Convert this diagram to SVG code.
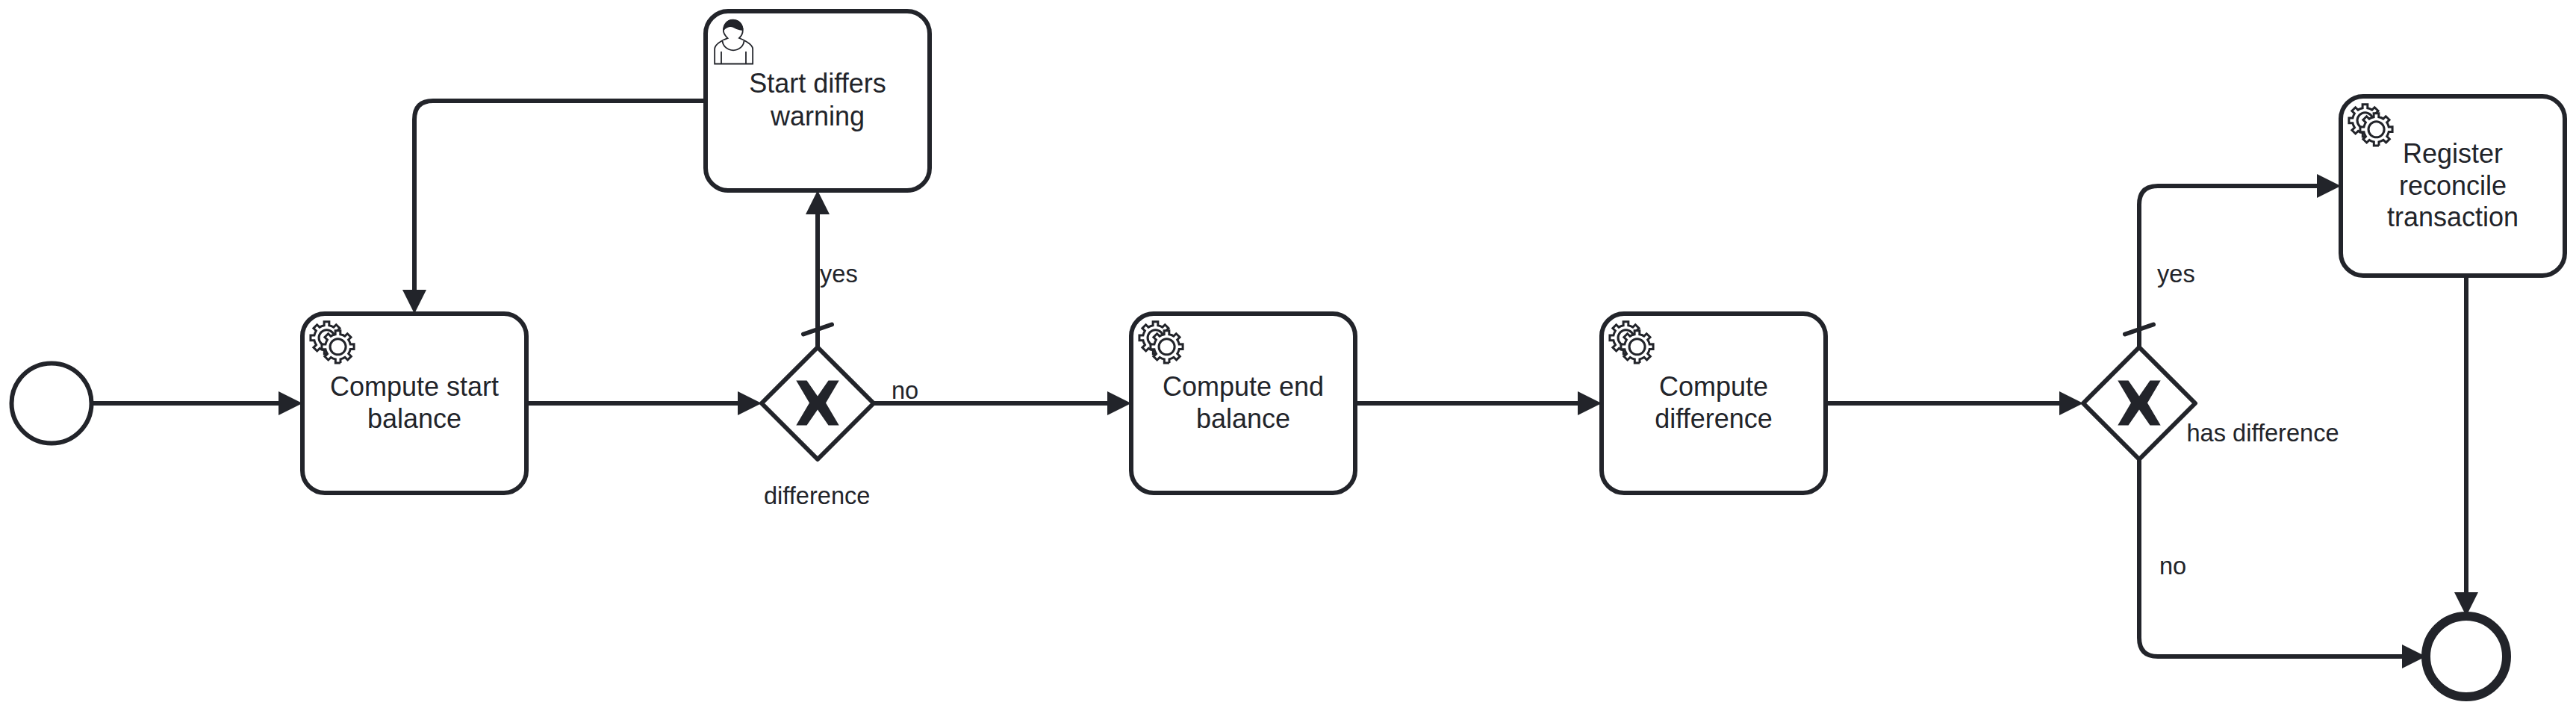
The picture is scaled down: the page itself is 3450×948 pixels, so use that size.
<svg xmlns="http://www.w3.org/2000/svg" xmlns:xlink="http://www.w3.org/1999/xlink" width="3450" height="948" viewBox="0 0 3450 948">
<style>
.task{fill:#fff;stroke:#22242a;stroke-width:6}
.evt{fill:#fff;stroke:#22242a}
.gw{fill:#fff;stroke:#22242a;stroke-width:6;stroke-linejoin:round}
.flow{fill:none;stroke:#22242a;stroke-width:6;stroke-linejoin:round}
.tick{fill:none;stroke:#22242a;stroke-width:6;stroke-linecap:round}
.x{fill:#22242a}
text{font-family:"Liberation Sans",Arial,sans-serif;fill:#22242a}
.tl{font-size:36px;text-anchor:middle}
.fl{font-size:32.6px}
.ico{fill:#fff;stroke:#22242a;stroke-width:1}
.icoU{fill:#fff;stroke:#22242a;stroke-width:.6}
</style>
<defs>
<marker id="arrow" markerUnits="userSpaceOnUse" markerWidth="34" markerHeight="34" viewBox="0 0 34 34" refX="12" refY="17" orient="auto"><path d="M0,1 L32,17 L0,33 Z" fill="#22242a"/></marker>
<path id="gear" d="m 0,0 v -1.71335 c 0.352326,-0.0705 0.703932,-0.17838 1.047628,-0.32133 0.344416,-0.14465 0.665822,-0.32133 0.966377,-0.52145 l 1.19431,1.18005 1.567487,-1.57688 -1.195028,-1.18014 c 0.403376,-0.61394 0.683079,-1.29908 0.825447,-2.01824 l 1.622133,-0.01 v -2.2196 l -1.636514,0.01 c -0.07333,-0.35153 -0.178319,-0.70024 -0.323564,-1.04372 -0.145244,-0.34406 -0.321407,-0.6644 -0.522735,-0.96217 l 1.131035,-1.13631 -1.583305,-1.56293 -1.129598,1.13589 c -0.614052,-0.40108 -1.302883,-0.68093 -2.022633,-0.82247 l 0.0093,-1.61852 h -2.241173 l 0.0042,1.63124 c -0.353763,0.0736 -0.705369,0.17977 -1.049785,0.32371 -0.344415,0.14437 -0.665102,0.32092 -0.9635006,0.52046 l -1.1698628,-1.15823 -1.5667691,1.5792 1.1684265,1.15669 c -0.4026573,0.61283 -0.68308,1.29797 -0.8247287,2.01713 l -1.6588041,0.003 v 2.22174 l 1.6724648,-0.006 c 0.073327,0.35077 0.1797598,0.70243 0.3242851,1.04472 0.1452428,0.34448 0.3214064,0.6644 0.5227339,0.96066 l -1.1993431,1.19723 1.5840256,1.56011 1.1964668,-1.19348 c 0.6140517,0.40346 1.3028827,0.68232 2.0233517,0.82331 l 7.19e-4,1.69892 h 2.226848 z m 0.221462,-3.9957 c -1.788948,0.7502 -3.8576,-0.0928 -4.6097055,-1.87438 -0.7521065,-1.78321 0.090598,-3.84627 1.8802645,-4.59604 1.78823,-0.74936 3.856881,0.0929 4.608987,1.87437 0.752106,1.78165 -0.0906,3.84612 -1.879546,4.59605 z"/>
<g id="service">
<g transform="scale(3)">
<use xlink:href="#gear" href="#gear" x="12" y="18" class="ico"/>
<path d="m 17.2,18 c -1.788948,0.7502 -3.8576,-0.0928 -4.6097055,-1.87438 -0.7521065,-1.78321 0.090598,-3.84627 1.8802645,-4.59604 1.78823,-0.74936 3.856881,0.0929 4.608987,1.87437 0.752106,1.78165 -0.0906,3.84612 -1.879546,4.59605 z" fill="#fff"/>
<use xlink:href="#gear" href="#gear" x="17" y="22" class="ico"/>
</g>
</g>
<path id="xmark" d="M-28.7,-30 L-14.5,-30 L0,-9 L14.5,-30 L28.7,-30 L11,0 L28.7,30 L14.5,30 L0,9 L-14.5,30 L-28.7,30 L-11,0 Z" class="x"/>
</defs>
<rect width="3450" height="948" fill="#fff"/>

<g id="connectors">
<path class="flow" d="M125,540 H385" marker-end="url(#arrow)"/>
<path class="flow" d="M705,540 H1000" marker-end="url(#arrow)"/>
<path class="flow" d="M1095,465 V275" marker-end="url(#arrow)"/>
<path class="tick" d="M1076,447.5 L1114,434.5"/>
<path class="flow" d="M945,135 H580 Q555,135 555,160 V400" marker-end="url(#arrow)"/>
<path class="flow" d="M1170,540 H1495" marker-end="url(#arrow)"/>
<path class="flow" d="M1815,540 H2125" marker-end="url(#arrow)"/>
<path class="flow" d="M2445,540 H2770" marker-end="url(#arrow)"/>
<path class="flow" d="M2865,465 V274 Q2865,249 2890,249 H3115" marker-end="url(#arrow)"/>
<path class="tick" d="M2846,447.5 L2884,434.5"/>
<path class="flow" d="M2865,615 V854 Q2865,879 2890,879 H3229" marker-end="url(#arrow)"/>
<path class="flow" d="M3303,369 V805" marker-end="url(#arrow)"/>
</g>

<g id="start"><circle class="evt" cx="69" cy="540" r="53.5" stroke-width="6"/></g>

<g id="task_start_balance">
<rect class="task" x="405" y="420" width="300" height="240" rx="30"/>
<use xlink:href="#service" href="#service" x="405" y="420"/>
<text class="tl" x="555" y="529.5">Compute start</text><text class="tl" x="555" y="573">balance</text>
</g>

<g id="task_warning">
<rect class="task" x="945" y="15" width="300" height="240" rx="30"/>
<g transform="translate(945,15) scale(3)">
<path class="icoU" d="m 15,12 c 0.909,-0.845 1.594,-2.049 1.594,-3.385 0,-2.554 -1.805,-4.62199999 -4.357,-4.62199999 -2.55199998,0 -4.28799998,2.06799999 -4.28799998,4.62199999 0,1.348 0.974,2.562 1.89599998,3.405 -0.52899998,0.187 -5.669,2.097 -5.794,4.7560005 v 6.718 h 17 v -6.718 c 0,-2.2980005 -5.5279996,-4.5950005 -6.0509996,-4.7760005 z m -8,6 l 0,5.648 m 11,0 l 0,-5.648"/>
<path class="icoU" d="m 15,12 m 2.162,1.009 c 0,2.4470005 -2.158,4.4310005 -4.821,4.4310005 -2.66499998,0 -4.822,-1.981 -4.822,-4.4310005" fill="none"/>
<path d="m 15,12 m -6.9,-3.80 c 0,0 2.25099998,-2.358 4.27399998,-1.177 2.024,1.181 4.221,1.537 4.124,0.965 -0.098,-0.57 -0.117,-3.79099999 -4.191,-4.13599999 -3.57499998,0.001 -4.20799998,3.36699999 -4.20699998,4.34799999 z" fill="#22242a" stroke="#22242a" stroke-width=".6"/>
</g>
<text class="tl" x="1095" y="124">Start differs</text><text class="tl" x="1095" y="168">warning</text>
</g>

<g id="gateway_difference">
<path class="gw" d="M1095,465 L1170,540 L1095,615 L1020,540 Z"/>
<use xlink:href="#xmark" href="#xmark" x="1095" y="539.5"/>
<text class="fl" x="1023" y="674.5">difference</text>
</g>

<g id="task_end_balance">
<rect class="task" x="1515" y="420" width="300" height="240" rx="30"/>
<use xlink:href="#service" href="#service" x="1515" y="420"/>
<text class="tl" x="1665" y="529.5">Compute end</text><text class="tl" x="1665" y="573">balance</text>
</g>

<g id="task_difference">
<rect class="task" x="2145" y="420" width="300" height="240" rx="30"/>
<use xlink:href="#service" href="#service" x="2145" y="420"/>
<text class="tl" x="2295" y="529.5">Compute</text><text class="tl" x="2295" y="573">difference</text>
</g>

<g id="gateway_has_difference">
<path class="gw" d="M2865,465 L2940,540 L2865,615 L2790,540 Z"/>
<use xlink:href="#xmark" href="#xmark" x="2865" y="539.5"/>
<text class="fl" x="2928.5" y="591">has difference</text>
</g>

<g id="task_register">
<rect class="task" x="3135" y="129" width="300" height="240" rx="30"/>
<use xlink:href="#service" href="#service" x="3135" y="129"/>
<text class="tl" x="3285" y="218">Register</text><text class="tl" x="3285" y="261">reconcile</text><text class="tl" x="3285" y="303">transaction</text>
</g>

<g id="end"><circle class="evt" cx="3303" cy="879" r="54" stroke-width="12"/></g>

<g id="flow_labels">
<text class="fl" x="1098" y="378">yes</text>
<text class="fl" x="1194" y="534">no</text>
<text class="fl" x="2889" y="378">yes</text>
<text class="fl" x="2892" y="769">no</text>
</g>
</svg>
